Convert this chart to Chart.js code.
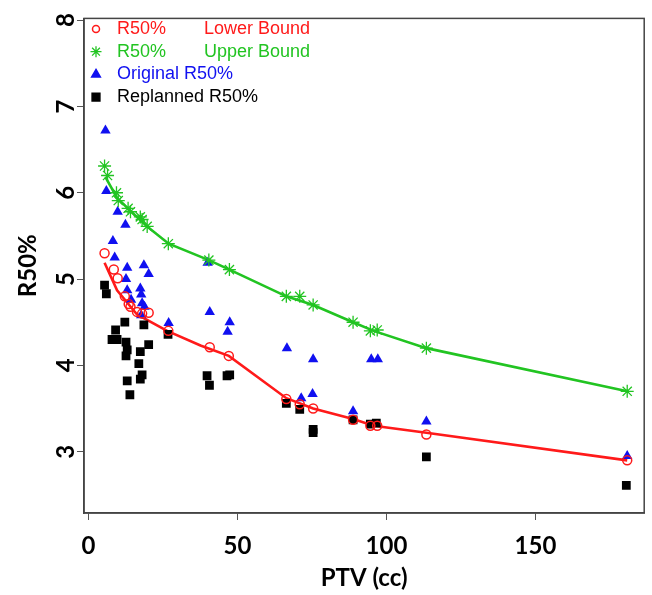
<!DOCTYPE html>
<html>
<head>
<meta charset="utf-8">
<title>R50% vs PTV</title>
<script src="https://cdn.jsdelivr.net/npm/chart.js@4.4.1/dist/chart.umd.min.js"></script>
<style>
    html, body { margin: 0; padding: 0; background: #fff; }
    #chart { display: block; }
</style>
</head>
<body>
<canvas id="chart" width="652" height="595"></canvas>
<script>
// Data (PTV in cc, R50%)
const lowerX = [5.4, 8.5, 9.8, 12.2, 13.5, 14.1, 16.3, 18.0, 20.2, 26.8, 40.7, 47.1, 66.4, 70.9, 75.4, 88.8, 94.6, 96.9, 113.4, 180.8];
const lowerY = [5.30, 5.11, 5.01, 4.80, 4.71, 4.68, 4.62, 4.60, 4.61, 4.40, 4.21, 4.11, 3.61, 3.55, 3.50, 3.37, 3.30, 3.30, 3.20, 2.90];

const upperX = [5.4, 6.4, 9.4, 10.0, 13.3, 14.1, 17.4, 18.0, 19.7, 26.8, 40.4, 47.3, 66.4, 70.9, 75.4, 88.8, 94.6, 96.9, 113.4, 180.8];
const upperY = [6.31, 6.20, 6.00, 5.91, 5.82, 5.78, 5.72, 5.69, 5.61, 5.41, 5.22, 5.11, 4.80, 4.80, 4.70, 4.50, 4.40, 4.41, 4.20, 3.70];

const lowerFitX = [5.4, 9.6, 16.3, 26.4, 37.6, 47.1, 66.4, 75.4, 88.8, 95.7, 113.4, 180.8];
const lowerFitY = [5.19, 4.87, 4.59, 4.40, 4.23, 4.11, 3.62, 3.50, 3.38, 3.30, 3.22, 2.90];

const upperFitX = [5.7, 9.6, 14.1, 19.7, 26.9, 40.4, 47.3, 66.4, 75.4, 88.8, 95.7, 113.4, 180.8];
const upperFitY = [6.18, 5.94, 5.79, 5.61, 5.41, 5.22, 5.11, 4.80, 4.70, 4.50, 4.40, 4.20, 3.70];

const originalX = [5.7, 6.0, 9.8, 12.4, 8.2, 8.8, 13.0, 18.6, 20.2, 12.6, 13.0, 17.4, 14.3, 17.7, 18.0, 18.8, 17.7, 26.9,
    40.0, 40.7, 47.4, 46.7, 66.6, 75.4, 71.4, 75.2, 94.9, 97.1, 88.8, 113.4, 180.8];
const originalY = [6.72, 6.02, 5.78, 5.63, 5.44, 5.25, 5.13, 5.16, 5.06, 5.00, 4.87, 4.89, 4.76, 4.82, 4.72, 4.68, 4.58, 4.49,
    5.19, 4.62, 4.50, 4.39, 4.20, 4.07, 3.62, 3.67, 4.07, 4.07, 3.47, 3.35, 2.95];

const replannedX = [5.4, 6.0, 12.2, 9.1, 7.9, 9.6, 12.6, 13.0, 12.6, 18.6, 20.2, 17.4, 16.9, 18.0, 17.4, 13.0, 13.9, 26.7,
    39.8, 40.6, 46.5, 47.4, 66.4, 70.9, 75.4, 75.4, 88.8, 94.6, 96.6, 113.4, 180.5];
const replannedY = [4.93, 4.83, 4.50, 4.41, 4.30, 4.30, 4.27, 4.18, 4.11, 4.47, 4.24, 4.16, 4.02, 3.89, 3.84, 3.82, 3.66, 4.36,
    3.88, 3.77, 3.88, 3.89, 3.56, 3.49, 3.26, 3.22, 3.37, 3.32, 3.33, 2.94, 2.61];

const xTicks = [0, 50, 100, 150];
const yTicks = [3, 4, 5, 6, 7, 8];

const legendItems = [
    { text: 'R50%', text2: 'Lower Bound', color: '#ff1a1a', style: 'circle', radius: 3.5, fill: false },
    { text: 'R50%', text2: 'Upper Bound', color: '#22c422', style: 'star', radius: 5.5, fill: false },
    { text: 'Original R50%', color: '#1010f0', style: 'triangle', radius: 5, fill: true },
    { text: 'Replanned R50%', color: '#000000', style: 'rect', radius: 5.5, fill: true }
];

function toPoints(xs, ys) {
    return xs.map((x, i) => ({ x: x, y: ys[i] }));
}

// Box around the plot area
const boxPlugin = {
    id: 'box',
    afterDraw(chart) {
        const { ctx, chartArea } = chart;
        ctx.save();
        ctx.strokeStyle = '#444';
        ctx.lineWidth = 1.5;
        ctx.strokeRect(chartArea.left, chartArea.top, chartArea.right - chartArea.left, chartArea.bottom - chartArea.top);
        ctx.restore();
    }
};

// Legend inside the plot, markers only
const insideLegend = {
    id: 'insideLegend',
    afterDraw(chart) {
        const ctx = chart.ctx;
        const left = chart.chartArea.left;
        ctx.save();
        ctx.font = '18px "Liberation Sans", Arial, sans-serif';
        ctx.textBaseline = 'middle';
        legendItems.forEach((item, i) => {
            const y = 29 + i * 22.7;
            ctx.strokeStyle = item.color;
            ctx.fillStyle = item.fill ? item.color : 'rgba(0,0,0,0)';
            ctx.lineWidth = item.style === 'star' ? 1.3 : 1.5;
            Chart.helpers.drawPoint(ctx, { pointStyle: item.style, radius: item.radius, rotation: 0, borderWidth: ctx.lineWidth }, left + 12, y);
            ctx.fillStyle = item.color;
            ctx.fillText(item.text, left + 33, y);
            if (item.text2) ctx.fillText(item.text2, left + 120, y);
        });
        ctx.restore();
    }
};

const tickFont = { family: 'Lato, "Open Sans", sans-serif', size: 24, weight: 'bold' };

new Chart(document.getElementById('chart'), {
    type: 'scatter',
    data: {
        datasets: [
            {
                label: 'Lower fit',
                data: toPoints(lowerFitX, lowerFitY),
                showLine: true,
                borderColor: '#ff1a1a',
                borderWidth: 2.6,
                pointRadius: 0,
                order: 5
            },
            {
                label: 'Upper fit',
                data: toPoints(upperFitX, upperFitY),
                showLine: true,
                borderColor: '#22c422',
                borderWidth: 2.6,
                pointRadius: 0,
                order: 5
            },
            {
                label: 'R50% Lower Bound',
                data: toPoints(lowerX, lowerY),
                pointStyle: 'circle',
                pointRadius: 4.5,
                borderWidth: 1.5,
                borderColor: '#ff1a1a',
                backgroundColor: 'rgba(0,0,0,0)',
                order: 1
            },
            {
                label: 'R50% Upper Bound',
                data: toPoints(upperX, upperY),
                pointStyle: 'star',
                pointRadius: 6.5,
                borderWidth: 1.3,
                borderColor: '#22c422',
                backgroundColor: '#22c422',
                order: 2
            },
            {
                label: 'Original R50%',
                data: toPoints(originalX, originalY),
                pointStyle: 'triangle',
                pointRadius: 6,
                borderWidth: 0,
                borderColor: '#1010f0',
                backgroundColor: '#1010f0',
                order: 3
            },
            {
                label: 'Replanned R50%',
                data: toPoints(replannedX, replannedY),
                pointStyle: 'rect',
                pointRadius: 6.2,
                borderWidth: 0,
                borderColor: '#000',
                backgroundColor: '#000',
                order: 4
            }
        ]
    },
    options: {
        responsive: false,
        animation: false,
        devicePixelRatio: 1,
        layout: { padding: { top: 11, right: 7, left: 0, bottom: 0 } },
        scales: {
            x: {
                type: 'linear',
                min: -1.5,
                max: 186.5,
                afterBuildTicks: (scale) => { scale.ticks = xTicks.map(v => ({ value: v })); },
                afterFit: (scale) => { scale.height = 82; },
                ticks: { font: tickFont, color: '#000', padding: 12, maxRotation: 0 },
                grid: { drawOnChartArea: false, drawTicks: true, tickLength: 7, color: '#555' },
                border: { display: true, color: '#444', width: 1.5 },
                title: { display: true, text: 'PTV (cc)', font: tickFont, color: '#000', padding: { top: 0, bottom: 2 } }
            },
            y: {
                type: 'linear',
                min: 2.29,
                max: 8.02,
                afterBuildTicks: (scale) => { scale.ticks = yTicks.map(v => ({ value: v })); },
                afterFit: (scale) => { scale.width = 84; },
                ticks: { font: tickFont, color: '#000', padding: 4, minRotation: 90, maxRotation: 90, crossAlign: 'center' },
                grid: { drawOnChartArea: false, drawTicks: true, tickLength: 7, color: '#555' },
                border: { display: true, color: '#444', width: 1.5 },
                title: { display: true, text: 'R50%', font: tickFont, color: '#000', padding: { top: 14, bottom: 0 } }
            }
        },
        plugins: {
            legend: { display: false },
            tooltip: { enabled: false }
        }
    },
    plugins: [boxPlugin, insideLegend]
});
</script>
</body>
</html>
